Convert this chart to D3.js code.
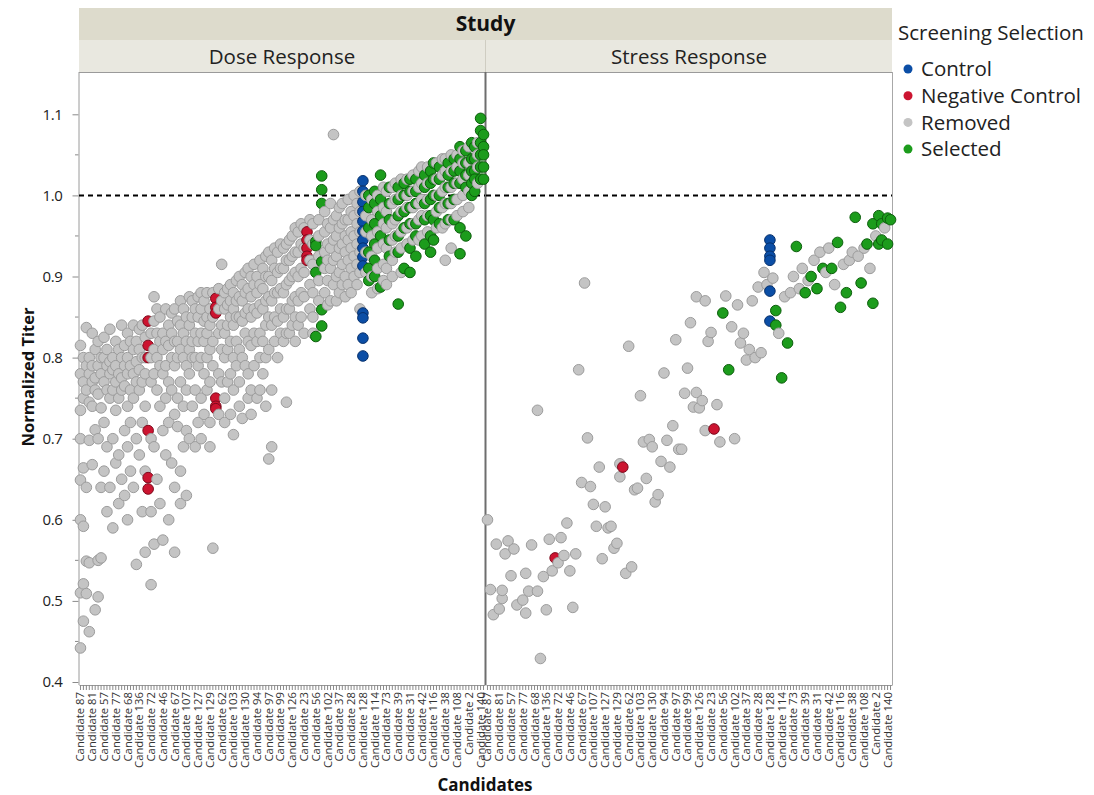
<!DOCTYPE html>
<html>
<head>
<meta charset="utf-8">
<script src="https://cdn.jsdelivr.net/npm/d3@7"></script>
<style>
  body { margin: 0; background: #fff; }
  text { font-family: "Open Sans", "Noto Sans", sans-serif; }
</style>
</head>
<body>
<svg id="chart" width="1094" height="795"></svg>
<script>
// candidate order along the x axis (every 4th one gets a label)
const candidateIds = [
  87, 1, 3, 4, 81, 5, 6, 7, 57, 8, 9, 10, 77, 11, 12, 13, 68, 14, 15, 16,
  136, 17, 18, 19, 72, 20, 21, 22, 46, 24, 25, 26, 67, 27, 29, 30, 107, 32, 33, 34,
  127, 35, 36, 40, 129, 41, 43, 44, 62, 45, 47, 48, 103, 49, 50, 51, 130, 52, 53, 54,
  94, 55, 58, 59, 97, 60, 61, 63, 99, 64, 65, 66, 126, 69, 70, 71, 23, 74, 75, 76,
  56, 78, 79, 80, 102, 82, 83, 84, 37, 85, 86, 88, 28, 89, 90, 91, 128, 92, 93, 95,
  114, 96, 98, 100, 73, 101, 104, 105, 39, 106, 109, 110, 31, 111, 112, 113, 42, 115, 117, 118,
  116, 119, 120, 121, 38, 122, 123, 124, 108, 125, 131, 132, 2, 133, 134, 135, 140, 137
];

const controlIds = [128];
const negativeIds = [19, 43, 74];
const selectedIds = [56, 79, 93, 114, 98, 101, 39, 109, 31, 112, 115, 118, 116, 120, 122, 124, 125, 132, 133, 134, 140, 137];

const studies = ['Dose Response', 'Stress Response'];
const yTicks = [0.4, 0.5, 0.6, 0.7, 0.8, 0.9, 1.0, 1.1];
const refLine = 1.0;

const groups = ['Control', 'Negative Control', 'Removed', 'Selected'];
const groupColors = ['#0b4ea6', '#cc1430', '#c4c4c4', '#1c9c1c'];
const groupStroke = ['#06306c', '#7c0a1c', '#9c9c9c', '#0c5e0c'];

// Dose Response titers, one list per candidate (same order as candidateIds)
const doseTiter = [
  [0.815, 0.78, 0.735, 0.70, 0.649, 0.60, 0.51, 0.442],
  [0.80, 0.77, 0.75, 0.664, 0.592, 0.521, 0.475],
  [0.837, 0.79, 0.76, 0.64, 0.549, 0.509],
  [0.80, 0.78, 0.745, 0.698, 0.547, 0.462],
  [0.83, 0.79, 0.77, 0.74, 0.668],
  [0.81, 0.775, 0.76, 0.711, 0.489],
  [0.82, 0.79, 0.755, 0.70, 0.55, 0.505],
  [0.80, 0.78, 0.738, 0.64, 0.553],
  [0.825, 0.80, 0.77, 0.72, 0.66],
  [0.81, 0.79, 0.76, 0.69, 0.61],
  [0.835, 0.795, 0.78, 0.75, 0.64],
  [0.80, 0.785, 0.76, 0.70, 0.59],
  [0.82, 0.79, 0.77, 0.735, 0.67],
  [0.81, 0.78, 0.75, 0.68, 0.62],
  [0.84, 0.80, 0.775, 0.76, 0.65],
  [0.815, 0.79, 0.765, 0.71, 0.63],
  [0.83, 0.80, 0.78, 0.74, 0.69, 0.60],
  [0.82, 0.79, 0.76, 0.72, 0.66],
  [0.84, 0.81, 0.78, 0.75, 0.64],
  [0.82, 0.795, 0.77, 0.70, 0.545],
  [0.835, 0.81, 0.785, 0.76, 0.68],
  [0.84, 0.80, 0.77, 0.72, 0.61],
  [0.825, 0.80, 0.78, 0.74, 0.66, 0.56],
  [0.845, 0.815, 0.80, 0.71, 0.652, 0.638],
  [0.83, 0.80, 0.77, 0.70, 0.61, 0.52],
  [0.875, 0.845, 0.81, 0.78, 0.69, 0.57],
  [0.86, 0.83, 0.80, 0.76, 0.65],
  [0.85, 0.82, 0.79, 0.74, 0.62],
  [0.83, 0.81, 0.78, 0.71, 0.575],
  [0.86, 0.82, 0.79, 0.75, 0.68],
  [0.84, 0.815, 0.77, 0.72, 0.60],
  [0.855, 0.83, 0.80, 0.76, 0.67],
  [0.86, 0.82, 0.79, 0.73, 0.64, 0.56],
  [0.845, 0.82, 0.80, 0.75, 0.715],
  [0.87, 0.84, 0.81, 0.77, 0.66, 0.62],
  [0.86, 0.83, 0.80, 0.74, 0.69],
  [0.85, 0.82, 0.79, 0.76, 0.71, 0.63],
  [0.875, 0.84, 0.81, 0.78, 0.70],
  [0.87, 0.85, 0.82, 0.80, 0.74],
  [0.86, 0.83, 0.80, 0.76, 0.69],
  [0.875, 0.85, 0.82, 0.79, 0.72],
  [0.88, 0.86, 0.83, 0.80, 0.75, 0.70],
  [0.87, 0.845, 0.82, 0.78, 0.73],
  [0.88, 0.85, 0.83, 0.80, 0.76],
  [0.86, 0.84, 0.81, 0.77, 0.72, 0.69],
  [0.88, 0.85, 0.82, 0.79, 0.565],
  [0.873, 0.862, 0.855, 0.75, 0.74, 0.737],
  [0.885, 0.86, 0.83, 0.78, 0.73],
  [0.915, 0.87, 0.84, 0.81, 0.77],
  [0.88, 0.86, 0.83, 0.80, 0.75, 0.72],
  [0.885, 0.865, 0.84, 0.81, 0.77],
  [0.89, 0.87, 0.85, 0.82, 0.78, 0.73],
  [0.88, 0.86, 0.84, 0.80, 0.76, 0.705],
  [0.895, 0.87, 0.85, 0.82, 0.79],
  [0.90, 0.875, 0.85, 0.81, 0.77, 0.74],
  [0.89, 0.87, 0.845, 0.80, 0.725],
  [0.905, 0.88, 0.855, 0.83, 0.79],
  [0.91, 0.885, 0.86, 0.82, 0.78, 0.75],
  [0.90, 0.875, 0.85, 0.815, 0.76, 0.73],
  [0.915, 0.89, 0.86, 0.83, 0.79],
  [0.90, 0.88, 0.855, 0.82, 0.75],
  [0.92, 0.89, 0.865, 0.83, 0.80, 0.76],
  [0.91, 0.885, 0.86, 0.82, 0.78],
  [0.925, 0.90, 0.87, 0.84, 0.80, 0.74],
  [0.93, 0.90, 0.875, 0.85, 0.81, 0.675],
  [0.92, 0.895, 0.87, 0.84, 0.76, 0.69],
  [0.935, 0.91, 0.88, 0.85, 0.82],
  [0.93, 0.905, 0.88, 0.845, 0.80],
  [0.94, 0.91, 0.885, 0.86, 0.83],
  [0.935, 0.91, 0.88, 0.85, 0.82],
  [0.94, 0.92, 0.89, 0.86, 0.83, 0.745],
  [0.945, 0.92, 0.895, 0.86, 0.83],
  [0.95, 0.925, 0.90, 0.87, 0.84],
  [0.96, 0.93, 0.905, 0.875, 0.85, 0.82],
  [0.955, 0.93, 0.90, 0.87, 0.84],
  [0.965, 0.94, 0.91, 0.88, 0.85],
  [0.96, 0.935, 0.905, 0.875, 0.83],
  [0.955, 0.945, 0.935, 0.925, 0.92],
  [0.97, 0.945, 0.92, 0.89, 0.86],
  [0.965, 0.94, 0.915, 0.88, 0.85, 0.83],
  [0.943, 0.938, 0.905, 0.826],
  [0.97, 0.95, 0.925, 0.895, 0.87],
  [1.024, 1.007, 0.99, 0.918, 0.859, 0.839],
  [0.98, 0.955, 0.93, 0.91, 0.88],
  [0.965, 0.94, 0.92, 0.895, 0.865],
  [0.99, 0.96, 0.935, 0.91, 0.87],
  [1.075, 0.97, 0.945, 0.92, 0.89],
  [0.975, 0.95, 0.925, 0.90, 0.87],
  [0.985, 0.96, 0.935, 0.905, 0.88],
  [0.99, 0.965, 0.94, 0.915, 0.89],
  [0.97, 0.95, 0.93, 0.90, 0.875],
  [0.995, 0.97, 0.945, 0.92, 0.89],
  [0.98, 0.955, 0.935, 0.91, 0.88],
  [1.0, 0.975, 0.95, 0.925, 0.90],
  [0.99, 0.965, 0.94, 0.915, 0.89],
  [1.005, 0.98, 0.955, 0.93, 0.905, 0.86],
  [1.018, 1.005, 0.992, 0.98, 0.968, 0.956, 0.945, 0.935, 0.924, 0.913, 0.855, 0.849, 0.824, 0.802],
  [1.0, 0.975, 0.955, 0.93, 0.905],
  [1.0, 0.985, 0.96, 0.93, 0.91, 0.895],
  [0.995, 0.97, 0.95, 0.925, 0.90, 0.88],
  [1.005, 0.99, 0.965, 0.94, 0.92, 0.90],
  [1.0, 0.98, 0.955, 0.935, 0.91, 0.885],
  [1.025, 0.995, 0.975, 0.95, 0.887],
  [1.01, 0.985, 0.965, 0.94, 0.915, 0.895],
  [1.005, 0.98, 0.96, 0.935, 0.91, 0.89],
  [1.01, 0.99, 0.97, 0.945, 0.925],
  [1.01, 0.99, 0.965, 0.945, 0.92, 0.90],
  [1.015, 0.995, 0.97, 0.95, 0.93],
  [1.01, 0.995, 0.975, 0.95, 0.93, 0.866],
  [1.02, 1.0, 0.98, 0.955, 0.935, 0.905],
  [1.015, 1.0, 0.98, 0.96, 0.91],
  [1.02, 1.0, 0.985, 0.96, 0.94],
  [1.02, 1.005, 0.985, 0.965, 0.935, 0.905],
  [1.025, 1.005, 0.985, 0.965, 0.945],
  [1.02, 1.005, 0.99, 0.965, 0.95, 0.925],
  [1.03, 1.01, 0.99, 0.97, 0.945],
  [1.035, 1.015, 0.995, 0.975, 0.95],
  [1.025, 1.01, 0.99, 0.97, 0.94],
  [1.035, 1.015, 0.995, 0.975, 0.955],
  [1.03, 1.015, 0.995, 0.975, 0.95, 0.93],
  [1.04, 1.02, 1.0, 0.97, 0.945],
  [1.04, 1.02, 1.0, 0.98, 0.96],
  [1.035, 1.02, 1.0, 0.985, 0.965],
  [1.045, 1.025, 1.005, 0.985, 0.96],
  [1.045, 1.03, 1.01, 0.99, 0.965, 0.92],
  [1.04, 1.025, 1.01, 0.99, 0.97],
  [1.05, 1.03, 1.01, 0.99, 0.97, 0.935],
  [1.045, 1.03, 1.015, 0.995, 0.97],
  [1.05, 1.035, 1.015, 0.995, 0.975],
  [1.06, 1.045, 1.03, 1.015, 0.96, 0.928],
  [1.055, 1.04, 1.02, 1.0, 0.98],
  [1.055, 1.04, 1.025, 1.01, 0.95],
  [1.06, 1.04, 1.025, 1.005, 0.985],
  [1.065, 1.045, 1.03, 1.015, 1.0],
  [1.06, 1.045, 1.03, 1.02, 1.005],
  [1.065, 1.05, 1.035, 1.015],
  [1.095, 1.08, 1.065, 1.05, 1.035, 1.02],
  [1.075, 1.06, 1.05, 1.035, 1.02]
];

// Stress Response titers, same candidate order
const stressTiter = [
  [0.600], [0.514], [0.483], [0.570], [0.490], [0.503, 0.513], [0.558], [0.574], [0.531], [0.564],
  [0.495], [], [0.501], [0.485, 0.534], [0.512], [0.569], [], [0.512, 0.735], [0.429], [0.530],
  [0.489], [0.576], [0.537], [0.553], [0.547], [0.578], [0.556], [0.596], [0.537], [0.492],
  [0.558], [0.785], [0.646], [0.892], [0.701], [0.641], [0.619], [0.592], [0.665], [0.552],
  [0.616], [0.590], [0.592], [0.565], [0.571], [0.653, 0.669], [0.665], [0.534], [0.814], [0.542],
  [0.637], [0.639], [0.753], [0.696], [0.651], [0.699], [0.690], [0.622], [0.631], [0.672],
  [0.781], [0.698], [0.665], [0.716], [0.822], [0.687], [0.687], [0.756], [0.787], [0.843],
  [0.739], [0.757, 0.875], [0.738], [0.747], [0.710, 0.870], [0.820], [0.831], [0.712], [0.742], [0.696],
  [0.855], [0.876], [0.785], [0.838], [0.700], [0.865], [0.818], [0.830], [0.797], [0.810],
  [0.870], [0.800], [0.887], [0.806], [0.905], [0.890], [0.945, 0.935, 0.925, 0.920, 0.882, 0.845], [0.898], [0.858, 0.840], [0.830],
  [0.775], [0.875], [0.818], [0.880], [0.900], [0.937], [0.885], [0.910], [0.880], [0.895],
  [0.900], [0.920], [0.885], [0.930], [0.910], [0.905], [0.935], [0.910], [0.890], [0.942],
  [0.862], [0.915], [0.880], [0.920], [0.930], [0.973], [0.925], [0.892], [0.935], [0.940],
  [0.910], [0.867, 0.965], [0.950], [0.975, 0.940], [0.965, 0.945], [0.960], [0.972, 0.940], [0.970]
];

const names = candidateIds.map(d => 'Candidate ' + d);

function groupOf(id) {
  if (controlIds.includes(id)) return 0;
  if (negativeIds.includes(id)) return 1;
  if (selectedIds.includes(id)) return 3;
  return 2;
}

const svg = d3.select('#chart');

const plotTop = 72, plotBottom = 685;
const panels = [
  { study: studies[0], x0: 79, x1: 485, values: doseTiter },
  { study: studies[1], x0: 486, x1: 892, values: stressTiter }
];

const y = d3.scaleLinear()
  .domain([0.4, 1.1])
  .range([682, 114.3]);

// header bands
svg.append('rect')
  .attr('x', 79).attr('y', 8)
  .attr('width', 892 - 79).attr('height', 32)
  .attr('fill', '#dddbcc');
svg.append('text')
  .attr('x', (79 + 892) / 2).attr('y', 31)
  .attr('text-anchor', 'middle')
  .attr('font-size', 21).attr('font-weight', 'bold')
  .attr('fill', '#111')
  .text('Study');

panels.forEach(function (p) {
  svg.append('rect')
    .attr('x', p.x0).attr('y', 40)
    .attr('width', p.x1 - p.x0).attr('height', plotTop - 40)
    .attr('fill', '#e9e8e0');
  svg.append('text')
    .attr('x', (p.x0 + p.x1) / 2).attr('y', 64)
    .attr('text-anchor', 'middle')
    .attr('font-size', 20.5)
    .attr('fill', '#222')
    .text(p.study);
});
svg.append('line')
  .attr('x1', 485.5).attr('x2', 485.5)
  .attr('y1', 40).attr('y2', plotTop)
  .attr('stroke', '#cfcdc2');
svg.append('line')
  .attr('x1', 79).attr('x2', 892)
  .attr('y1', plotTop + 0.5).attr('y2', plotTop + 0.5)
  .attr('stroke', '#9a9a9a');

// y axis
const yAxis = d3.axisLeft(y)
  .tickValues(yTicks)
  .tickFormat(d3.format('.1f'))
  .tickSize(6)
  .tickSizeOuter(0);
const yg = svg.append('g')
  .attr('transform', 'translate(78.5,0)')
  .call(yAxis);
yg.select('.domain').remove();
yg.selectAll('.tick line').attr('stroke', '#8a8a8a');
yg.selectAll('.tick text')
  .attr('font-size', 15)
  .attr('letter-spacing', -0.4)
  .attr('fill', '#222')
  .attr('x', -16);

const minor = d3.range(0.45, 1.15, 0.1);
svg.append('g').selectAll('line')
  .data(minor)
  .enter()
  .append('line')
  .attr('x1', 75).attr('x2', 78.5)
  .attr('y1', d => y(d)).attr('y2', d => y(d))
  .attr('stroke', '#8a8a8a');

svg.append('line')
  .attr('x1', 79).attr('x2', 79)
  .attr('y1', plotTop).attr('y2', plotBottom)
  .attr('stroke', '#9a9a9a');

// panels
panels.forEach(function (p, pi) {
  const x = d3.scaleBand()
    .domain(names)
    .range([p.x0, p.x1]);

  const g = svg.append('g');

  // frame
  g.append('line')
    .attr('x1', p.x1 + 0.5).attr('x2', p.x1 + 0.5)
    .attr('y1', plotTop).attr('y2', plotBottom)
    .attr('stroke', pi === 0 ? '#6e6e6e' : '#a8a8a8')
    .attr('stroke-width', pi === 0 ? 2 : 1);

  // reference line
  g.append('line')
    .attr('x1', p.x0).attr('x2', p.x1)
    .attr('y1', y(refLine)).attr('y2', y(refLine))
    .attr('stroke', '#000')
    .attr('stroke-width', 2)
    .attr('stroke-dasharray', '5,4');

  // x axis
  const xAxis = d3.axisBottom(x)
    .tickSize(5)
    .tickSizeOuter(0)
    .tickFormat((d, i) => i % 4 === 0 ? d : '');
  const xg = g.append('g')
    .attr('transform', 'translate(0,' + plotBottom + ')')
    .call(xAxis);
  xg.select('.domain').attr('stroke', '#9a9a9a');
  xg.selectAll('.tick line').attr('stroke', '#8a8a8a');
  xg.selectAll('.tick text')
    .attr('font-size', 11.3)
    .attr('fill', '#333')
    .attr('text-anchor', 'end')
    .attr('transform', 'rotate(-90)')
    .attr('x', -7)
    .attr('y', 0)
    .attr('dy', '0.35em');

  // points, in candidate order
  const pts = [];
  p.values.forEach(function (vals, i) {
    vals.forEach(function (v) {
      pts.push({ name: names[i], v: v, grp: groupOf(candidateIds[i]) });
    });
  });

  g.append('g').selectAll('circle')
    .data(pts)
    .enter()
    .append('circle')
    .attr('cx', d => x(d.name) + x.bandwidth() / 2)
    .attr('cy', d => y(d.v))
    .attr('r', 5.3)
    .attr('fill', d => groupColors[d.grp])
    .attr('stroke', d => groupStroke[d.grp])
    .attr('stroke-width', 1);
});

// axis titles
svg.append('text')
  .attr('transform', 'translate(34,' + 377 + ') rotate(-90)')
  .attr('text-anchor', 'middle')
  .attr('font-size', 16.5).attr('font-weight', 'bold')
  .attr('fill', '#111')
  .text('Normalized Titer');

svg.append('text')
  .attr('x', 485).attr('y', 791)
  .attr('text-anchor', 'middle')
  .attr('font-size', 17).attr('font-weight', 'bold')
  .attr('fill', '#111')
  .text('Candidates');

// legend
const legend = svg.append('g').attr('transform', 'translate(898,0)');
legend.append('text')
  .attr('x', 0).attr('y', 40)
  .attr('font-size', 20.5)
  .attr('fill', '#222')
  .text('Screening Selection');

const items = legend.selectAll('g.item')
  .data(groups)
  .enter()
  .append('g')
  .attr('class', 'item')
  .attr('transform', (d, i) => 'translate(0,' + (69 + i * 26.7) + ')');
items.append('circle')
  .attr('cx', 10).attr('cy', 0)
  .attr('r', 4.5)
  .attr('fill', (d, i) => groupColors[i]);
items.append('text')
  .attr('x', 23).attr('y', 0)
  .attr('dy', '0.35em')
  .attr('font-size', 20.5)
  .attr('fill', '#222')
  .text(d => d);
</script>
</body>
</html>
